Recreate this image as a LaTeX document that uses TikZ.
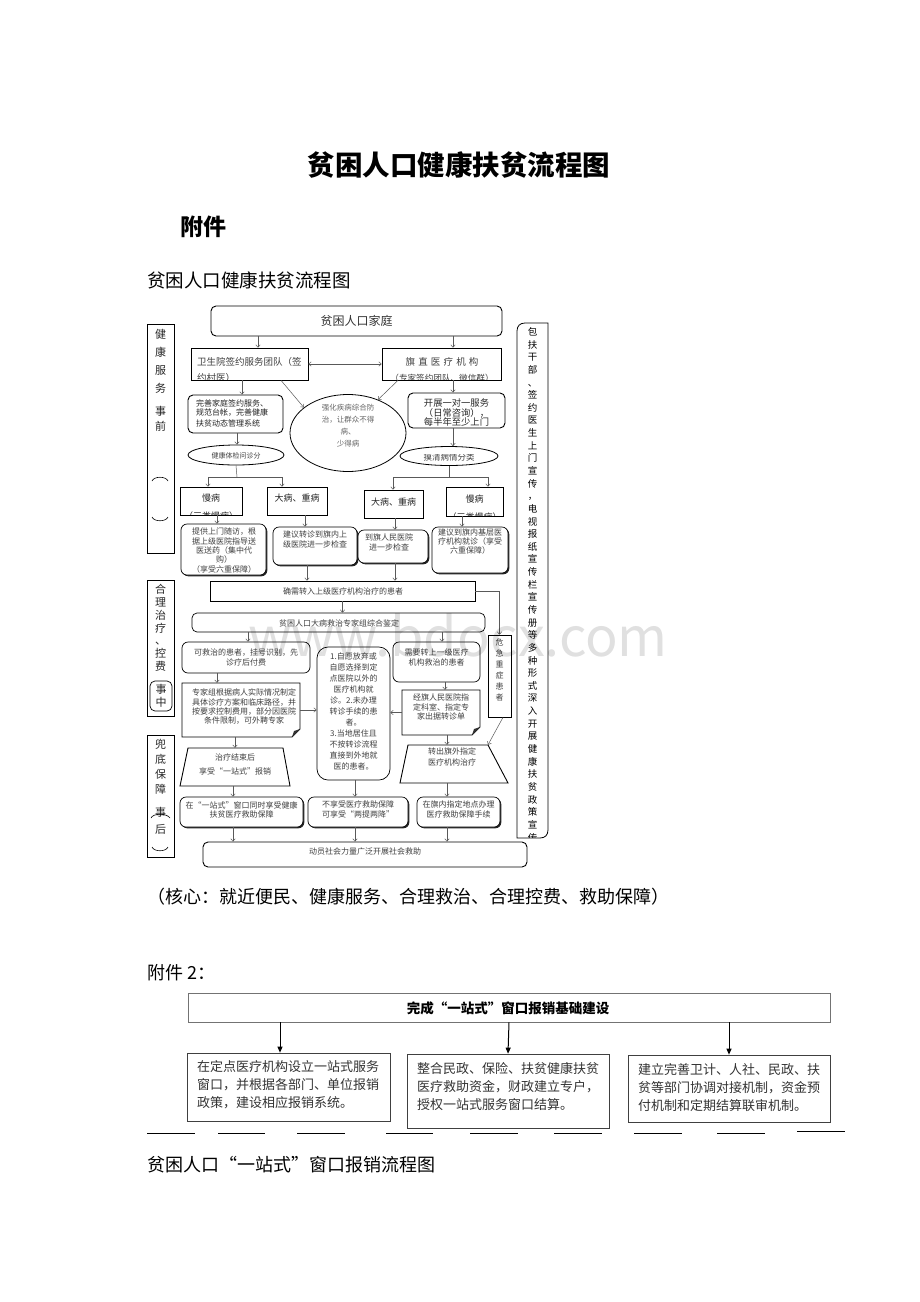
\documentclass[tikz,border=0pt]{standalone}
\usepackage{fontspec}
\setmainfont{Noto Sans CJK SC}
\usetikzlibrary{arrows.meta,shapes.geometric,fit,shadows}
\newcommand{\fsz}[2]{\fontsize{#1}{#2}\selectfont}
\begin{document}
\begin{tikzpicture}[x=1pt,y=-1pt,
  bx/.style={draw, fill=white, line width=0.7pt, inner sep=0pt},
  rbx/.style={bx, rounded corners=4pt},
  shd/.style={drop shadow={shadow xshift=1.3pt, shadow yshift=-1.3pt, fill=black, opacity=0.85}},
  tx/.style={inner sep=0pt, align=center, text=black!75},
  tl/.style={inner sep=0pt, align=left, text=black!75},
  arr/.style={draw=black!65, line width=0.5pt, -{Straight Barb[length=2.5pt,width=4.5pt]}},
  ln/.style={draw=black!65, line width=0.5pt},
  barr/.style={draw=black, line width=1pt, -{Triangle[length=6pt,width=5pt]}},
  ell/.style={draw, ellipse, fill=white, line width=0.8pt, inner sep=0pt}
]
\fill[white] (0,0) rectangle (920,1302);
\useasboundingbox (0,0) rectangle (920,1302);

% ---------------- page texts
\node[inner sep=0pt, font=\bfseries\fsz{27.5}{27.5}] (title) at (459,165) {贫困人口健康扶贫流程图};
\node[inner sep=0pt, anchor=west, font=\bfseries\fsz{23}{23}] (fj) at (180,227) {附件};
\node[inner sep=0pt, anchor=west, font=\fsz{18.5}{18.5}] (sub) at (147,280) {贫困人口健康扶贫流程图};

% ---------------- left column
\node[bx, fit={(147,324) (174,553)}] (L1) {};
\node[tx, text=black!85, anchor=north, font=\fsz{11}{18}] (L1a) at (160.5,329.5) {健\\康\\服\\务};
\node[tx, text=black!85, anchor=north, font=\fsz{11}{15}] (L1b) at (160.5,406.5) {事\\前};
\draw[line width=0.6pt] (152,481) .. controls (154,476) and (166,476) .. (168,481);
\draw[line width=0.6pt] (152,517) .. controls (154,522) and (166,522) .. (168,517);

\node[bx, fit={(147,580) (174,716)}] (L2) {};
\node[tx, text=black!85, anchor=north, font=\fsz{11}{12.7}] (L2a) at (160.5,584.5) {合\\理\\治\\疗\\、\\控\\费};
\node[draw, line width=0.7pt, rounded corners=5pt, inner sep=0pt, fit={(150,681) (172,711)}] (L2s) {};
\node[tx, text=black!85, anchor=north, font=\fsz{11}{12.5}] (L2b) at (161,684.5) {事\\中};

\node[bx, fit={(147,735) (174,857)}] (L3) {};
\node[tx, text=black!85, anchor=north, font=\fsz{11}{15}] (L3a) at (160.5,739.5) {兜\\底\\保\\障};
\node[tx, text=black!85, anchor=north, font=\fsz{11}{17}] (L3b) at (160.5,807.5) {事\\后};
\draw[line width=0.6pt] (151,818) .. controls (153,813) and (167,813) .. (170,818);
\draw[line width=0.6pt] (152,847) .. controls (154,852) and (166,852) .. (168,847);

% ---------------- right column
\draw[line width=0.8pt] (517,838) -- (517,331) .. controls (517,326) and (520,323) .. (525,323) -- (548,323) -- (548,830) .. controls (548,835) and (545,838) .. (540,838) -- cycle;
\node[inner sep=0pt, fit={(517,323) (548,838)}] (R) {};
\begin{scope}
\clip (517,324) rectangle (548,837.5);
\node[tx, text=black, anchor=north, font=\fsz{9.5}{12.64}] (Rt) at (532.5,327.2) {包\\扶\\干\\部\\、\\签\\约\\医\\生\\上\\门\\宣\\传\\，\\电\\视\\报\\纸\\宣\\传\\栏\\宣\\传\\册\\等\\多\\种\\形\\式\\深\\入\\开\\展\\健\\康\\扶\\贫\\政\\策\\宣\\传};
\end{scope}

% ---------------- row 1
\node[rbx, line width=0.9pt, rounded corners=5pt, fit={(211,306) (502,336)}] (top) {};
\node[tx, text=black!80, font=\fsz{12}{12}] (topt) at (356.5,321) {贫困人口家庭};

\node[bx, fit={(191,348) (308,380)}] (wsy) {};
\begin{scope}
\clip (191,348) rectangle (308,379.5);
\node[tl, anchor=north west, font=\fsz{9.5}{16}] (wsyt) at (197,357.3) {卫生院签约服务团队（签\\约村医）};
\end{scope}

\node[bx, fit={(382,348) (501,380)}] (qz) {};
\begin{scope}
\clip (382,348) rectangle (501,379.5);
\node[tx, font=\fsz{9.5}{9.5}] (qzt) at (442,362) {旗\,\,直\,\,医\,\,疗\,\,机\,\,构};
\node[tx, font=\fsz{8.6}{8.6}] (qzt2) at (442,378.5) {（专家签约团队、微信群）};
\end{scope}

\draw[arr, {Straight Barb[length=2.5pt,width=4.5pt]}-{Straight Barb[length=2.5pt,width=4.5pt]}] (wsy.east) -- (qz.west);
\draw[arr] ([xshift=-98.5]top.south) -- ([xshift=8.5]wsy.north);
\draw[arr] ([xshift=96.5]top.south) -- ([xshift=11.5]qz.north);

% ---------------- row 2
\node[rbx, line width=0.9pt, rounded corners=5pt, fit={(188,395) (283,433)}] (ws2) {};
\node[tl, text=black!85, anchor=north west, font=\fsz{8}{10}] (ws2t) at (196,399) {完善家庭签约服务、\\规范台帐，完善健康\\扶贫动态管理系统};

\node[ell, minimum width=116, minimum height=77] (el) at (348,433) {};
\node[tx, text=black!60, anchor=north, font=\fsz{7.5}{12}] (elt) at (348,404.2) {强化疾病综合防\\治，让群众不得\\病、\\少得病};

\node[rbx, line width=0.9pt, rounded corners=5pt, fit={(408,393) (505,428)}] (kz) {};
\node[tx, text=black!85, anchor=north, font=\fsz{9.3}{9.6}] (kzt) at (456.5,398.4) {开展一对一服务\\（日常咨询），\\每半年至少上门};

\draw[arr] ([xshift=31.5]wsy.south) -- (el.150);
\draw[arr] ([xshift=-43.5]qz.south) -- (el.48);
\draw[arr] ([xshift=-7.5]wsy.south) -- ([xshift=6.5]ws2.north);
\draw[arr] ([xshift=11.5]qz.south) -- ([xshift=-3.5]kz.north);

\node[ell, minimum width=96, minimum height=20] (e1) at (236,455) {};
\node[tx, font=\fsz{7}{7}] (e1t) at (236,455.5) {健康体检问诊分};
\node[ell, minimum width=98, minimum height=19] (e2) at (449,456) {};
\begin{scope}
\clip (400,454) rectangle (498,466);
\node[tx, font=\fsz{8.5}{8.5}] (e2t) at (449,457.5) {摸清病情分类};
\end{scope}

\draw[arr] ([xshift=1.5]ws2.south) -- ([xshift=1]e1.north);
\draw[arr] ([xshift=-3.5]kz.south) -- ([xshift=4]e2.north);

% ---------------- row 3 (disease type)
\node[bx, fit={(180,487) (242,515)}] (mb1) {};
\node[bx, fit={(267,487) (327,515)}] (db1) {};
\node[bx, fit={(364,490) (423,518)}] (db2) {};
\node[bx, fit={(446,487) (503,516)}] (mb2) {};
\begin{scope}
\clip (180,487) rectangle (242,514.6);
\node[tx, text=black!85, anchor=north, font=\fsz{9}{18}] (mb1t) at (211,493.5) {慢病\\（三类慢病）};
\end{scope}
\node[tx, text=black!85, font=\fsz{9}{9}] (db1t) at (297,498.5) {大病、重病};
\node[tx, text=black!85, font=\fsz{9}{9}] (db2t) at (393.5,502) {大病、重病};
\begin{scope}
\clip (446,487) rectangle (503,515.6);
\node[tx, text=black!85, anchor=north, font=\fsz{9}{18}] (mb2t) at (474.5,494.5) {慢病\\（三类慢病）};
\end{scope}

\coordinate (j1) at (237,477);
\coordinate (j2) at (449,477);
\draw[ln] (e1.south) -- (j1);
\draw[arr] (j1) -| ([xshift=-3]mb1.north);
\draw[arr] (j1) -| ([xshift=-15]db1.north);
\draw[ln] (e2.south) -- (j2);
\draw[arr] (j2) -| ([xshift=-0.5]db2.north);
\draw[arr] (j2) -| ([xshift=13.5]mb2.north);

% ---------------- row 4
\node[rbx, shd, rounded corners=6pt, fit={(181,524) (266,575)}] (tg) {};
\node[rbx, shd, rounded corners=6pt, fit={(273,527) (357,565)}] (jy1) {};
\node[rbx, shd, rounded corners=6pt, fit={(358,530) (428,563)}] (dq) {};
\node[rbx, shd, rounded corners=6pt, fit={(432,527) (508,573)}] (jy2) {};
\begin{scope}
\clip (181,524) rectangle (266,574.5);
\node[tx, anchor=north, font=\fsz{8}{9.3}] (tgt) at (224,528) {提供上门随访，根\\据上级医院指导送\\医送药（集中代\\购）\\（享受六重保障）};
\end{scope}
\node[tx, anchor=north, font=\fsz{8}{10}] (jy1t) at (315,531) {建议转诊到旗内上\\级医院进一步检查};
\node[tx, anchor=north, font=\fsz{8}{10}] (dqt) at (389,534) {到旗人民医院\\进一步检查};
\node[tx, anchor=north, font=\fsz{8}{8.7}] (jy2t) at (470,529) {建议到旗内基层医\\疗机构就诊（享受\\六重保障）};

\draw[arr] ([xshift=6]mb1.south) -- ([xshift=-6.5]tg.north);
\draw[arr] ([xshift=8]db1.south) -- ([xshift=-10]jy1.north);
\draw[arr] ([xshift=1.5]db2.south) -- ([xshift=2]dq.north);
\draw[arr] ([xshift=-12.5]mb2.south) -- ([xshift=-8]jy2.north);

% ---------------- row 5
\node[bx, fit={(210,581) (475,601)}] (qx) {};
\node[tx, font=\fsz{8}{8}] (qxt) at (343,591) {确需转入上级医疗机构治疗的患者};
\draw[arr] ([xshift=-8]jy1.south) -- ([xshift=-35.5]qx.north);
\draw[arr] ([xshift=2]dq.south) -- ([xshift=52.5]qx.north);

\node[rbx, rounded corners=5pt, fit={(192,613) (485,632)}] (pk) {};
\node[tx, font=\fsz{8}{8}] (pkt) at (339,623) {贫困人口大病救治专家组综合鉴定};
\draw[arr] (qx.south) -- ([xshift=4]pk.north);

\node[bx, fit={(488,635) (511,717)}] (wj) {};
\node[tx, anchor=north, font=\fsz{8}{11}] (wjt) at (499.5,639) {危\\急\\重\\症\\患\\者};
\draw[arr] (qx.east) -| (wj.north);

% ---------------- row 6
\node[rbx, rounded corners=6pt, fit={(182,642) (310,673)}] (kj) {};
\node[tx, anchor=north, font=\fsz{8}{10}] (kjt) at (246,649) {可救治的患者，挂号识别，先\\诊疗后付费};
\node[rbx, rounded corners=11pt, fit={(317,647) (390,780)}] (mid) {};
\node[tx, anchor=north, font=\fsz{8}{11}] (midt) at (353.5,653) {1.自愿放弃或\\自愿选择到定\\点医院以外的\\医疗机构就\\诊。2.未办理\\转诊手续的患\\者。\\3.当地居住且\\不按转诊流程\\直接到外地就\\医的患者。};
\node[rbx, rounded corners=6pt, fit={(393,642) (480,682)}] (xy) {};
\node[tx, anchor=north, font=\fsz{8}{10}] (xyt) at (436.5,649) {需要转上一级医疗\\机构救治的患者};

\draw[arr] ([xshift=-90.5]pk.south) -- ([xshift=2]kj.north);
\draw[arr] ([xshift=103.5]pk.south) -- ([xshift=5.5]xy.north);

% ---------------- row 7 (document shapes)
\draw[line width=0.9pt, fill=white] (182,683) -- (300,683) -- (300,729) -- (292,737) -- (182,737) -- cycle;
\fill[black!80] (300,729) -- (292,737) -- (294,731) -- cycle;
\node[inner sep=0pt, fit={(182,683) (300,737)}] (zj) {};
\node[tx, anchor=north, font=\fsz{8}{9.3}] (zjt) at (244,689) {专家组根据病人实际情况制定\\具体诊疗方案和临床路径，并\\按要求控制费用，部分因医院\\条件限制，可外聘专家};

\draw[line width=0.9pt, fill=white] (402,690) -- (480,690) -- (480,727) -- (472,735) -- (402,735) -- cycle;
\fill[black!80] (480,727) -- (472,735) -- (474,729) -- cycle;
\node[inner sep=0pt, fit={(402,690) (480,735)}] (jq) {};
\node[tx, anchor=north, font=\fsz{8}{9.5}] (jqt) at (441,694) {经旗人民医院指\\定科室、指定专\\家出据转诊单};

\draw[arr] ([xshift=-29]kj.south) -- ([xshift=-24]zj.north);
\draw[arr] ([xshift=8.5]xy.south) -- ([xshift=4]jq.north);
\draw[arr] (zj.east) -- (mid.west |- zj.east);
\draw[arr] (jq.west) -- (mid.east |- jq.west);

% ---------------- row 8 (trapezoids)
\draw[line width=0.9pt, fill=white] (188,748) -- (283,748) -- (290,786) -- (180,786) -- cycle;
\node[inner sep=0pt, minimum width=95, minimum height=38] (tz1) at (235,767) {};
\node[tx, anchor=north, font=\fsz{8}{14}] (tz1t) at (235,754) {治疗结束后\\享受“一站式”报销};
\draw[line width=0.9pt, fill=white] (408,745) -- (488,745) -- (508,783) -- (400,783) -- cycle;
\node[inner sep=0pt, minimum width=80, minimum height=38] (tz2) at (448,764) {};
\node[tx, anchor=north, font=\fsz{8}{11}] (tz2t) at (452,748) {转出旗外指定\\医疗机构治疗};

\draw[arr] ([xshift=-6]zj.south) -- (tz1.north);
\draw[arr] ([xshift=6]jq.south) -- ([xshift=-1]tz2.north);
\draw[arr] ([xshift=3.5]wj.south) -- ([xshift=40]tz2.north);

% ---------------- row 9
\node[rbx, shd, rounded corners=6pt, fit={(180,797) (303,827)}] (r1) {};
\node[rbx, shd, rounded corners=6pt, fit={(308,797) (408,827)}] (r2) {};
\node[rbx, shd, rounded corners=6pt, fit={(417,797) (500,827)}] (r3) {};
\node[tx, anchor=north, font=\fsz{8}{9.5}] (r1t) at (241.5,801) {在“一站式”窗口同时享受健康\\扶贫医疗救助保障};
\node[tx, anchor=north, font=\fsz{8}{10}] (r2t) at (358,801) {不享受医疗救助保障\\可享受“两提两降”};
\node[tx, anchor=north, font=\fsz{8}{10}] (r3t) at (458.5,801) {在旗内指定地点办理\\医疗救助保障手续};

\draw[arr] ([xshift=-2]tz1.south) -- ([xshift=-8.5]r1.north);
\draw[arr] ([xshift=1.5]mid.south) -- ([xshift=-3]r2.north);
\draw[arr] ([xshift=-1]tz2.south) -- ([xshift=-11.5]r3.north);

% ---------------- bottom
\node[rbx, line width=0.9pt, rounded corners=5pt, fit={(203,842) (527,867)}] (bot) {};
\node[tx, font=\fsz{8}{8}] (bott) at (365,851) {动员社会力量广泛开展社会救助};
\draw[arr] ([xshift=-8.5]r1.south) -- ([xshift=-132]bot.north);
\draw[arr] ([xshift=-3]r2.south) -- ([xshift=-10]bot.north);
\draw[arr] ([xshift=-11.5]r3.south) -- ([xshift=82]bot.north);

% ---------------- page texts 2
\node[inner sep=0pt, anchor=west, font=\fsz{18}{18}] (core) at (147,897) {（核心：就近便民、健康服务、合理救治、合理控费、救助保障）};
\node[inner sep=0pt, anchor=west, font=\fsz{18}{18}] (fj2) at (147,973) {附件 2：};

% ---------------- diagram 2
\node[draw=black!55, line width=0.6pt, inner sep=0pt, fit={(188,993) (830,1022)}] (T2) {};
\node[inner sep=0pt, font=\bfseries\fsz{13.5}{13.5}] (T2t) at (508,1008) {完成“一站式”窗口报销基础建设};
\node[draw=black!75, line width=0.7pt, inner sep=0pt, fit={(187,1053) (390,1121)}] (B1) {};
\node[draw=black!75, line width=0.7pt, inner sep=0pt, fit={(407,1054) (609,1128)}] (B2) {};
\node[draw=black!75, line width=0.7pt, inner sep=0pt, fit={(628,1055) (830,1122)}] (B3) {};
\node[tl, text=black!80, anchor=north west, font=\fsz{13}{18}] (B1t) at (197,1060.5) {在定点医疗机构设立一站式服务\\窗口，并根据各部门、单位报销\\政策，建设相应报销系统。};
\node[tl, text=black!80, anchor=north west, font=\fsz{13}{18}] (B2t) at (417,1062.5) {整合民政、保险、扶贫健康扶贫\\医疗救助资金，财政建立专户，\\授权一站式服务窗口结算。};
\node[tl, text=black!80, anchor=north west, font=\fsz{13}{18}] (B3t) at (638,1063.5) {建立完善卫计、人社、民政、扶\\贫等部门协调对接机制，资金预\\付机制和定期结算联审机制。};
\draw[barr] ([xshift=-229]T2.south) -- ([xshift=-8.5]B1.north);
\draw[barr] (T2.south) -- (B2.north);
\draw[barr] ([xshift=220]T2.south) -- (B3.north);

\foreach \a/\b in {147/195,218/265,297/345,386/433,470/518,554/602,634/682,717/765}
  \draw[line width=1pt] (\a,1133) -- (\b,1133);
\draw[line width=1pt] (797,1131) -- (845,1131);

\node[inner sep=0pt, anchor=west, font=\fsz{18}{18}] (sub2) at (147,1165) {贫困人口“一站式”窗口报销流程图};

% watermark
\node[inner sep=0pt, text=black, opacity=0.12, font=\fsz{54}{54}] (wm) at (458,635) {www.bdocx.com};
\end{tikzpicture}
\end{document}
